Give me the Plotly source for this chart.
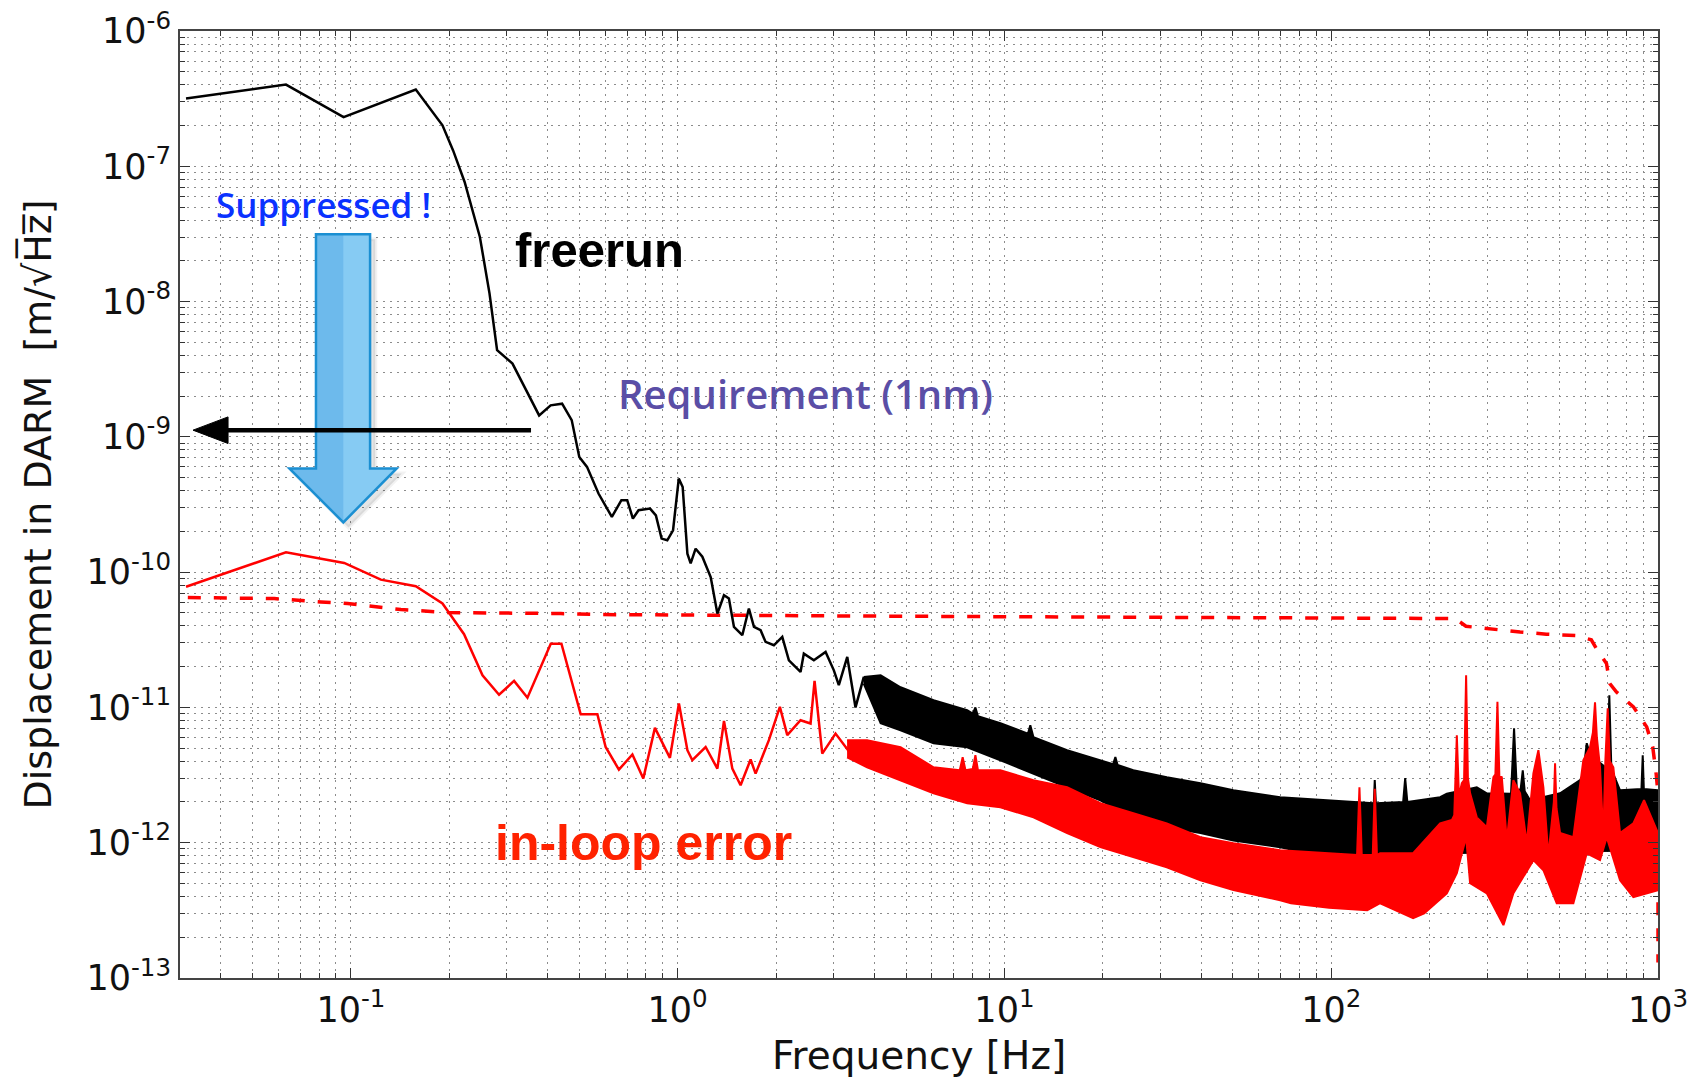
import numpy as np
import plotly.graph_objects as go

# ---------------- data ----------------
# freerun: low-frequency clean part (Hz, m/rtHz)
freerun_f = [0.0313, 0.0633, 0.0950, 0.158, 0.1907, 0.2055, 0.2229, 0.2482, 0.2656, 0.2802,
             0.3123, 0.3525, 0.3768, 0.4087, 0.4430, 0.474, 0.500, 0.528, 0.5725, 0.629,
             0.6727, 0.7009, 0.7295, 0.7592, 0.8234, 0.8579, 0.893, 0.9295, 0.968, 1.008,
             1.036, 1.071, 1.096, 1.135, 1.190, 1.262, 1.323, 1.386, 1.435, 1.487,
             1.577, 1.652, 1.712, 1.794, 1.858, 1.970, 2.090, 2.190, 2.377, 2.433,
             2.611, 2.836, 3.006, 3.113, 3.304, 3.502, 3.713]
freerun_v = [3.17e-7, 4.02e-7, 2.31e-7, 3.69e-7, 2.01e-7, 1.31e-7, 7.66e-8, 3.0e-8, 1.15e-8, 4.37e-9,
             3.48e-9, 1.97e-9, 1.44e-9, 1.71e-9, 1.76e-9, 1.33e-9, 7.1e-10, 6.0e-10, 3.81e-10, 2.56e-10,
             3.40e-10, 3.40e-10, 2.49e-10, 2.87e-10, 2.95e-10, 2.63e-10, 1.77e-10, 1.72e-10, 2.04e-10, 4.92e-10,
             4.26e-10, 1.37e-10, 1.16e-10, 1.49e-10, 1.30e-10, 9.2e-11, 4.94e-11, 6.75e-11, 6.38e-11, 3.94e-11,
             3.42e-11, 5.38e-11, 3.94e-11, 3.72e-11, 3.05e-11, 2.88e-11, 3.32e-11, 2.23e-11, 1.83e-11, 2.50e-11,
             2.23e-11, 2.57e-11, 1.88e-11, 1.46e-11, 2.36e-11, 1.0e-11, 1.68e-11]

# freerun: noisy part, upper / lower envelope
freerun_top_f = [3.71, 4.18, 4.81, 6.07, 7.69, 8.0, 8.15, 8.3, 9.72, 11.8, 12.0, 12.27, 15.55, 19.66,
                 21.5, 21.85, 22.2, 24.8, 31.4, 39.8, 50.2, 69.8, 98.5, 128.9, 135.0, 135.9, 137.0,
                 166.0, 168.4, 171.0, 215.4, 225.8, 278.9, 299.3, 355.0, 362.7, 370.0, 380.0, 385.6,
                 391.0, 406.0, 501.5, 577.4, 590.0, 605.3, 620.0, 700.0, 709.6, 720.0, 765.3, 890.0,
                 897.9, 905.0, 1000.0]
freerun_top_v = [1.68e-11, 1.73e-11, 1.41e-11, 1.13e-11, 9.54e-12, 9.0e-12, 1.0e-11, 8.6e-12, 7.64e-12,
                 6.4e-12, 7.39e-12, 6.02e-12, 4.83e-12, 4.07e-12, 3.8e-12, 4.3e-12, 3.75e-12, 3.43e-12,
                 3.05e-12, 2.75e-12, 2.44e-12, 2.17e-12, 2.06e-12, 1.96e-12, 1.96e-12, 2.9e-12, 1.96e-12,
                 2.0e-12, 3.0e-12, 2.0e-12, 2.17e-12, 2.3e-12, 2.57e-12, 2.32e-12, 2.3e-12, 7.0e-12,
                 2.4e-12, 2.5e-12, 3.43e-12, 2.4e-12, 2.06e-12, 2.32e-12, 2.9e-12, 3.2e-12, 5.44e-12,
                 4.5e-12, 3.5e-12, 1.23e-11, 3.5e-12, 2.44e-12, 2.5e-12, 4.43e-12, 2.5e-12, 2.44e-12]
freerun_bot_f = [3.71, 4.18, 4.81, 6.07, 7.69, 9.72, 12.27, 15.55, 19.66, 24.8, 31.4, 39.8, 50.2,
                 69.8, 98.5, 128.9, 168.4, 215.4, 1000.0]
freerun_bot_v = [1.5e-11, 7.64e-12, 6.78e-12, 5.44e-12, 5.08e-12, 4.07e-12, 3.26e-12, 2.57e-12,
                 2.06e-12, 1.54e-12, 1.30e-12, 1.18e-12, 1.04e-12, 9.27e-13, 7.81e-13, 7.81e-13,
                 8.36e-13, 8.36e-13, 8.8e-13]

# in-loop error: low-frequency clean part
inloop_f = [0.0313, 0.0633, 0.0954, 0.1235, 0.158, 0.1907, 0.222, 0.2528, 0.2841, 0.3158,
            0.347, 0.409, 0.4409, 0.505, 0.568, 0.602, 0.661, 0.727, 0.785, 0.852,
            0.947, 1.009, 1.071, 1.109, 1.218, 1.323, 1.386, 1.47, 1.558, 1.672,
            1.732, 1.902, 2.055, 2.165, 2.377, 2.551, 2.624, 2.770, 3.042, 3.382]
inloop_v = [7.8e-11, 1.40e-10, 1.17e-10, 8.8e-11, 7.87e-11, 5.86e-11, 3.48e-11, 1.73e-11, 1.24e-11, 1.57e-11,
            1.18e-11, 2.96e-11, 2.96e-11, 8.9e-12, 8.9e-12, 5.1e-12, 3.47e-12, 4.49e-12, 2.98e-12, 7.06e-12,
            4.24e-12, 1.07e-11, 4.83e-12, 4.07e-12, 5.1e-12, 3.53e-12, 7.94e-12, 3.53e-12, 2.66e-12, 4.12e-12,
            3.24e-12, 5.73e-12, 1.01e-11, 6.24e-12, 8.04e-12, 7.6e-12, 1.57e-11, 4.56e-12, 6.41e-12, 4.56e-12]

# in-loop error: noisy part, upper / lower envelope
inloop_top_f = [3.3, 3.8, 4.81, 6.07, 7.3, 7.45, 7.6, 8.0, 8.15, 8.3, 9.72, 12.27, 15.55, 19.66, 24.8,
                31.4, 39.8, 50.2, 69.8, 98.5, 120.0, 122.0, 124.0, 134.0, 135.9, 138.0, 141.2, 178.1,
                215.4, 233.9, 238.0, 242.3, 246.0, 251.0, 255.0, 258.7, 262.0, 266.1, 278.9, 299.3,
                313.6, 318.0, 322.6, 327.0, 332.7, 344.6, 361.0, 378.4, 396.6, 415.6, 430.5, 445.9,
                461.8, 480.0, 484.2, 489.0, 501.5, 550.8, 590.9, 619.4, 632.0, 641.6, 650.0, 664.6,
                680.3, 690.0, 701.7, 712.0, 730.0, 765.3, 840.6, 906.3, 1000.0]
inloop_top_v = [5.72e-12, 5.72e-12, 5.08e-12, 3.61e-12, 3.43e-12, 4.28e-12, 3.43e-12, 3.5e-12, 4.43e-12,
                3.43e-12, 3.43e-12, 2.90e-12, 2.57e-12, 1.96e-12, 1.65e-12, 1.39e-12, 1.10e-12, 9.9e-13,
                8.8e-13, 8.4e-13, 8.1e-13, 2.57e-12, 8.1e-13, 8.1e-13, 2.5e-12, 8.1e-13, 8.36e-13, 8.36e-13,
                1.39e-12, 1.47e-12, 1.6e-12, 6.23e-12, 2.2e-12, 2.75e-12, 2.9e-12, 1.73e-11, 3.0e-12,
                2.32e-12, 1.54e-12, 1.30e-12, 3.05e-12, 3.2e-12, 1.10e-11, 3.1e-12, 3.05e-12, 1.04e-12,
                2.90e-12, 2.32e-12, 9.9e-13, 3.26e-12, 4.83e-12, 2.57e-12, 8.0e-13, 2.0e-12, 3.87e-12,
                1.8e-12, 1.18e-12, 1.10e-12, 4.07e-12, 5.08e-12, 6.5e-12, 1.09e-11, 6.0e-12, 3.61e-12,
                1.10e-12, 4.0e-12, 9.86e-12, 4.0e-12, 3.61e-12, 1.18e-12, 1.39e-12, 2.06e-12, 1.18e-12]
inloop_bot_f = [3.3, 3.8, 4.81, 6.07, 7.69, 9.72, 12.27, 15.55, 19.66, 24.8, 31.4, 39.8, 50.2, 69.8,
                75.3, 98.5, 128.9, 141.2, 178.1, 192.5, 225.8, 242.3, 258.7, 266.1, 299.3, 336.5,
                361.0, 415.6, 445.9, 489.9, 550.8, 605.3, 664.6, 696.8, 765.3, 840.6, 923.5, 1000.0]
inloop_bot_v = [4.28e-12, 3.61e-12, 2.90e-12, 2.32e-12, 1.96e-12, 1.83e-12, 1.54e-12, 1.18e-12, 9.27e-13,
                7.81e-13, 6.59e-13, 5.28e-13, 4.46e-13, 3.76e-13, 3.57e-13, 3.3e-13, 3.17e-13, 3.57e-13,
                2.77e-13, 3.0e-13, 4.23e-13, 5.95e-13, 1.10e-12, 5.02e-13, 4.23e-13, 2.46e-13, 4.23e-13,
                7.43e-13, 6.26e-13, 3.57e-13, 3.57e-13, 8.36e-13, 7.43e-13, 1.10e-12, 5.28e-13, 3.96e-13,
                4.23e-13, 4.46e-13]

# dashed red curve
dashed_f = [0.0317, 0.0583, 0.081, 0.0977, 0.1422, 0.1976, 0.4387, 0.5813, 4.81, 69.8, 239.5,
            258.4, 320.6, 378.4, 455.5, 563.1, 624.9, 647.8, 695.7, 712.0, 746.5, 841.0, 923.5,
            963.6, 987.0, 1000.0, 1000.0]
dashed_v = [6.49e-11, 6.38e-11, 6.02e-11, 5.86e-11, 5.29e-11, 5.03e-11, 4.94e-11, 4.86e-11, 4.72e-11,
            4.59e-11, 4.54e-11, 3.98e-11, 3.76e-11, 3.61e-11, 3.48e-11, 3.40e-11, 3.16e-11, 2.72e-11,
            2.11e-11, 1.50e-11, 1.30e-11, 1.01e-11, 7.18e-12, 5.10e-12, 3.24e-12, 2.32e-12, 1.3e-13]

x_ticks = [0.1, 1, 10, 100, 1000]
x_ticktext = ["10<sup>-1</sup>", "10<sup>0</sup>", "10<sup>1</sup>", "10<sup>2</sup>", "10<sup>3</sup>"]
y_ticks = [1e-13, 1e-12, 1e-11, 1e-10, 1e-9, 1e-8, 1e-7, 1e-6]
y_ticktext = ["10<sup>-13</sup>", "10<sup>-12</sup>", "10<sup>-11</sup>", "10<sup>-10</sup>",
              "10<sup>-9</sup>", "10<sup>-8</sup>", "10<sup>-7</sup>", "10<sup>-6</sup>"]

# ---------------- figure ----------------
x_minor = [k * 10.0 ** n for n in range(-2, 3) for k in range(2, 10) if k * 10.0 ** n >= 0.03]
y_minor = [k * 10.0 ** n for n in range(-13, -6) for k in range(2, 10)]

fig = go.Figure()

RED = "#ff0000"
fig.add_trace(go.Scatter(x=dashed_f, y=dashed_v, mode="lines",
                         line=dict(color=RED, width=3.5, dash="13px,13px")))
fig.add_trace(go.Scatter(x=freerun_f, y=freerun_v, mode="lines",
                         line=dict(color="black", width=2.5)))
fig.add_trace(go.Scatter(x=freerun_top_f + freerun_bot_f[::-1],
                         y=freerun_top_v + freerun_bot_v[::-1],
                         mode="lines", fill="toself", fillcolor="black",
                         line=dict(color="black", width=2)))
fig.add_trace(go.Scatter(x=inloop_f, y=inloop_v, mode="lines",
                         line=dict(color=RED, width=2.5)))
fig.add_trace(go.Scatter(x=inloop_top_f + inloop_bot_f[::-1],
                         y=inloop_top_v + inloop_bot_v[::-1],
                         mode="lines", fill="toself", fillcolor=RED,
                         line=dict(color=RED, width=2)))

GRID = "#8c8c8c"
DASH = "2px,5px"
FONT = "DejaVu Sans"

common = dict(type="log", showline=True, linewidth=2, linecolor="#444", mirror="ticks",
              ticks="inside", ticklen=10, tickwidth=1, tickcolor="#333",
              showgrid=True, gridcolor=GRID, gridwidth=1, griddash=DASH, zeroline=False,
              tickfont=dict(family=FONT, size=35, color="#111"))

fig.update_xaxes(**common, range=[np.log10(0.03), 3], tickmode="array",
                 tickvals=x_ticks, ticktext=x_ticktext,
                 minor=dict(tickmode="array", tickvals=x_minor, ticks="inside", ticklen=5,
                            tickcolor="#333", showgrid=True, gridcolor=GRID, griddash=DASH, gridwidth=1))
fig.update_yaxes(**common, range=[-13, -6], tickmode="array",
                 tickvals=y_ticks, ticktext=y_ticktext,
                 minor=dict(tickmode="array", tickvals=y_minor, ticks="inside", ticklen=5,
                            tickcolor="#333", showgrid=True, gridcolor=GRID, griddash=DASH, gridwidth=1),
                 title=dict(text="Displacement in DARM\u00a0\u00a0[m/\u221aH\u0305z\u0305]",
                            font=dict(family=FONT, size=38, color="#111"), standoff=23))

# decorations (paper coordinates)
blue_arrow = "M 0.0920 0.7854 L 0.1286 0.7854 L 0.1286 0.5381 L 0.1466 0.5381 L 0.1105 0.4811 L 0.0740 0.5381 L 0.0920 0.5381 Z"
blue_right = "M 0.1105 0.7854 L 0.1286 0.7854 L 0.1286 0.5381 L 0.1466 0.5381 L 0.1105 0.4811 Z"
shadow = "M 0.0955 0.7800 L 0.1321 0.7800 L 0.1321 0.5327 L 0.1501 0.5327 L 0.1140 0.4757 L 0.0775 0.5327 L 0.0955 0.5327 Z"
shapes = [
    dict(type="path", path=shadow, xref="paper", yref="paper",
         fillcolor="rgba(0,0,0,0.10)", line=dict(color="rgba(0,0,0,0.05)", width=4), layer="above"),
    dict(type="path", path=blue_arrow, xref="paper", yref="paper",
         fillcolor="#6dbaec", line=dict(width=0), layer="above"),
    dict(type="path", path=blue_right, xref="paper", yref="paper",
         fillcolor="#86cbf3", line=dict(width=0), layer="above"),
    dict(type="path", path=blue_arrow, xref="paper", yref="paper",
         fillcolor="rgba(0,0,0,0)", line=dict(color="#1b8fd2", width=2.5), layer="above"),
    dict(type="line", x0=0.2375, y0=0.5785, x1=0.0311, y1=0.5785, xref="paper", yref="paper",
         line=dict(color="black", width=4.5), layer="above"),
    dict(type="path", path="M 0.0088 0.5785 L 0.0325 0.5925 L 0.0325 0.5644 Z",
         xref="paper", yref="paper", fillcolor="black", line=dict(color="black", width=1), layer="above"),
]

annotations = [
    dict(text="Frequency [Hz]", x=0.5, y=-0.0562, xref="paper", yref="paper", showarrow=False,
         font=dict(family=FONT, size=39, color="#111"), xanchor="center", yanchor="top"),
    dict(text="Suppressed !", x=0.0974, y=0.817, xref="paper", yref="paper", showarrow=False,
         font=dict(family="Open Sans", size=35, color="#0a32ff", weight=600),
         xanchor="center", yanchor="middle"),
    dict(text="<b>freerun</b>", x=0.284, y=0.7685, xref="paper", yref="paper", showarrow=False,
         font=dict(family="Liberation Sans", size=49, color="black"), xanchor="center", yanchor="middle"),
    dict(text="Requirement (1nm)", x=0.4229, y=0.617, xref="paper", yref="paper", showarrow=False,
         font=dict(family="Open Sans", size=40, color="#5a4ea6", weight=600),
         xanchor="center", yanchor="middle"),
    dict(text="<b>in-loop error</b>", x=0.3139, y=0.1425, xref="paper", yref="paper", showarrow=False,
         font=dict(family="Liberation Sans", size=50, color="#ff2200"), xanchor="center", yanchor="middle"),
]

fig.update_layout(width=1698, height=1082,
                  margin=dict(l=180, r=40, t=31, b=104, autoexpand=False),
                  paper_bgcolor="white", plot_bgcolor="white",
                  showlegend=False, hovermode=False,
                  shapes=shapes, annotations=annotations)

fig.write_html("out.html")
